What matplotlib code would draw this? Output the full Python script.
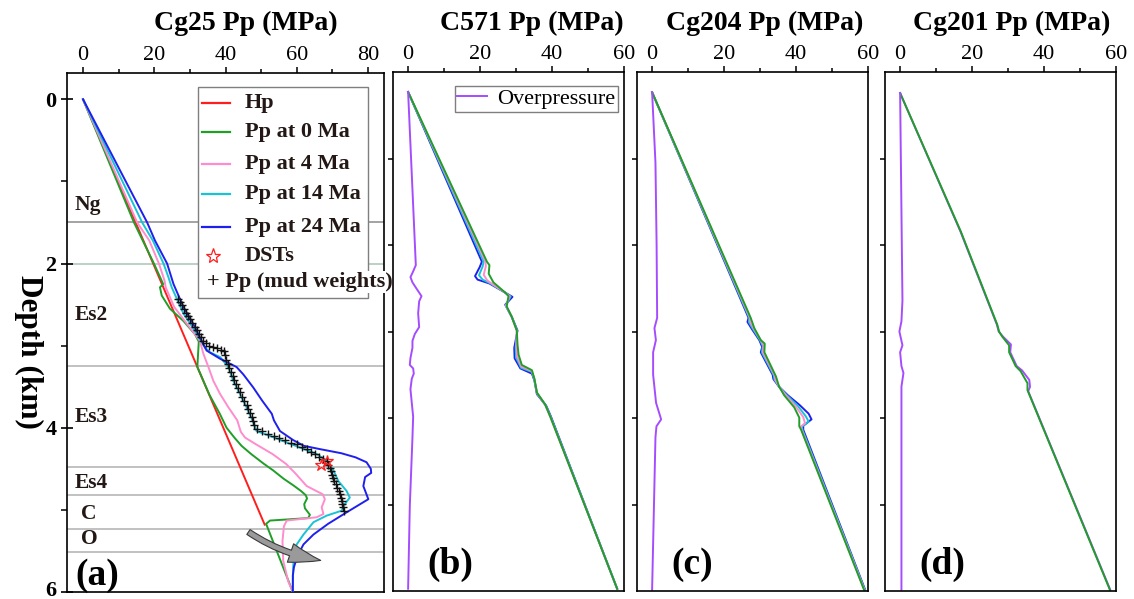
import matplotlib
matplotlib.use('Agg')
import matplotlib.pyplot as plt
import matplotlib.transforms as mtransforms
from matplotlib.patches import Rectangle, FancyArrowPatch
from matplotlib.lines import Line2D

plt.rcParams['font.family'] = ['Liberation Serif', 'DejaVu Serif']

# ---------------- data : panel (a) Cg25 ----------------
hp_depth = [0.0, 5.18]
hp_pp = [0.0, 51.0]

a0_depth = [0, 1.5, 2.0, 2.25, 2.29, 2.39, 2.55, 2.70, 2.86, 2.95, 3.10, 3.26, 3.43, 3.60, 3.83, 4.00,
            4.12, 4.22, 4.32, 4.44, 4.52, 4.62, 4.70, 4.77, 4.82, 4.86, 4.93, 4.98, 5.06, 5.10, 5.13, 5.17, 6.00]
a0_pp = [0, 14.3, 19.9, 22.5, 21.6, 22.1, 24.4, 28.2, 31.4, 32.5, 32.3, 32.1, 33.8, 35.5, 38.4, 40.3,
         42.5, 44.5, 47.2, 50.8, 53.4, 56.3, 59.0, 61.2, 62.5, 62.9, 62.1, 62.3, 63.7, 63.2, 52.5, 51.4, 58.9]

a4_depth = [0, 1.5, 1.72, 2.0, 2.21, 2.29, 2.53, 2.78, 2.94, 3.10, 3.26, 3.43, 3.59, 3.75, 3.91, 4.05,
            4.12, 4.20, 4.32, 4.44, 4.55, 4.71, 4.81, 4.87, 4.97, 5.05, 5.09, 5.13, 5.20, 5.38, 5.62, 5.87, 6.00]
a4_pp = [0, 15.2, 18.6, 21.3, 22.9, 23.2, 25.6, 30.0, 32.8, 33.8, 35.2, 36.6, 38.5, 40.8, 43.3, 44.3,
         45.5, 48.5, 53.2, 57.0, 59.5, 62.8, 67.3, 67.9, 67.0, 67.5, 65.6, 57.2, 56.4, 56.0, 56.2, 57.6, 58.9]

a14_depth = [0, 1.5, 1.72, 2.0, 2.17, 2.29, 2.61, 2.82, 3.02, 3.08, 3.14, 3.26, 3.43, 3.59, 3.75, 3.91,
             4.04, 4.10, 4.18, 4.24, 4.32, 4.40, 4.52, 4.65, 4.77, 4.85, 4.93, 5.01, 5.07, 5.15, 5.30,
             5.42, 5.50, 5.70, 6.00]
a14_pp = [0, 16.6, 19.6, 22.6, 24.0, 24.9, 28.2, 31.4, 34.2, 35.6, 38.5, 40.8, 42.2, 44.1, 45.9, 47.6,
          48.7, 52.5, 57.2, 60.9, 65.6, 68.4, 70.3, 71.7, 74.0, 74.9, 73.5, 72.6, 68.4, 64.7, 61.9,
          60.0, 59.3, 59.0, 58.9]

a24_depth = [0, 1.5, 1.72, 2.0, 2.25, 2.53, 2.74, 3.02, 3.06, 3.16, 3.26, 3.35, 3.51, 3.67, 3.83, 3.91,
             4.04, 4.15, 4.22, 4.26, 4.31, 4.36, 4.42, 4.50, 4.55, 4.60, 4.71, 4.87, 5.03, 5.17, 5.30,
             5.42, 5.56, 5.70, 5.80, 6.00]
a24_pp = [0, 18.0, 20.2, 23.6, 25.4, 28.2, 31.0, 34.2, 34.7, 38.5, 43.1, 45.0, 47.8, 50.3, 53.0, 53.6,
          55.3, 59.0, 62.0, 66.5, 72.5, 76.5, 79.6, 80.8, 80.9, 79.2, 78.7, 80.1, 74.0, 68.8, 64.7,
          61.9, 60.2, 59.2, 58.9, 58.9]

mud_depth = [2.43, 2.47, 2.51, 2.55, 2.60, 2.64, 2.68, 2.72, 2.77, 2.81, 2.86, 2.90, 2.94, 2.97, 3.00,
             3.02, 3.03, 3.05, 3.07, 3.12, 3.17, 3.22, 3.27, 3.32, 3.37, 3.42, 3.47, 3.52, 3.57, 3.62,
             3.67, 3.72, 3.77, 3.82, 3.87, 3.92, 3.97, 4.01, 4.04, 4.07, 4.10, 4.12, 4.15, 4.18, 4.20,
             4.23, 4.26, 4.29, 4.32, 4.35, 4.38, 4.41, 4.45, 4.49, 4.53, 4.57, 4.61, 4.65, 4.69, 4.73,
             4.77, 4.81, 4.85, 4.89, 4.93, 4.97, 5.01]
mud_pp = [26.8, 27.3, 27.9, 28.4, 29.0, 29.6, 30.1, 30.7, 31.4, 31.9, 32.5, 33.1, 33.8, 34.5, 35.3,
          36.4, 37.6, 38.7, 39.7, 39.9, 40.2, 40.6, 41.0, 41.5, 42.0, 42.5, 43.0, 43.5, 44.0, 44.6,
          45.3, 46.0, 46.4, 46.8, 47.3, 47.6, 48.0, 48.8, 50.2, 51.8, 53.5, 55.0, 56.6, 58.3, 60.0,
          61.5, 62.8, 64.0, 65.1, 66.3, 67.5, 68.4, 68.8, 69.2, 69.5, 69.8, 70.1, 70.4, 70.9, 71.4,
          71.8, 72.2, 72.5, 72.7, 72.8, 73.0, 73.2]

dst_depth = [4.45, 4.41]
dst_pp = [66.8, 68.6]

formation_depths = [1.5, 2.01, 3.25, 4.48, 4.82, 5.23, 5.51]
formation_names = ['Ng', 'Es2', 'Es3', 'Es4', 'C', 'O']
formation_label_depths = [1.29, 2.63, 3.87, 4.67, 5.05, 5.35]

# ---------------- data : panel (b) C571 ----------------
b0_depth = [0.231, 2.193, 2.233, 2.332, 2.432, 2.551, 2.591, 2.710, 2.830, 2.989, 3.148, 3.268, 3.387,
            3.447, 3.546, 3.705, 3.845, 3.984, 5.974]
b0_pp = [0.0, 21.9, 22.6, 22.4, 23.7, 27.0, 27.9, 27.4, 28.8, 30.2, 30.4, 30.7, 31.6,
         34.4, 35.1, 35.8, 38.1, 39.5, 58.1]
b4_depth = [0.231, 2.193, 2.245, 2.345, 2.410, 2.445, 2.551, 2.591, 2.705, 2.830, 2.989, 3.170, 3.290,
            3.407, 3.457, 3.550, 3.710, 3.850, 3.984, 5.974]
b4_pp = [0.0, 21.5, 21.6, 21.0, 22.0, 23.2, 27.0, 28.2, 27.2, 28.8, 30.2, 30.1, 30.3,
         31.5, 34.4, 35.1, 35.8, 38.1, 39.5, 58.1]
b14_depth = [0.231, 2.193, 2.250, 2.350, 2.400, 2.445, 2.551, 2.595, 2.700, 2.830, 2.989, 3.185, 3.300,
             3.420, 3.467, 3.560, 3.715, 3.850, 3.984, 5.974]
b14_pp = [0.0, 21.0, 20.7, 19.7, 20.7, 22.9, 27.0, 28.5, 27.1, 28.8, 30.3, 29.9, 30.0,
          31.4, 34.4, 35.1, 35.8, 38.2, 39.6, 58.1]
b24_depth = [0.231, 2.193, 2.255, 2.360, 2.400, 2.445, 2.551, 2.600, 2.690, 2.830, 2.989, 3.190, 3.310,
             3.427, 3.487, 3.566, 3.725, 3.860, 3.984, 5.974]
b24_pp = [0.0, 20.5, 19.9, 18.6, 19.3, 22.6, 27.0, 29.0, 27.0, 28.8, 30.4, 29.5, 29.6,
          31.2, 34.4, 35.1, 35.8, 38.4, 39.7, 58.1]
bop_depth = [0.231, 2.233, 2.305, 2.372, 2.432, 2.492, 2.591, 2.651, 2.790, 2.949, 3.029, 3.108, 3.188,
             3.307, 3.387, 3.427, 3.487, 3.546, 3.666, 3.825, 3.984, 4.223, 5.019, 5.974]
bop_pp = [0.0, 2.14, 1.40, 0.65, 1.21, 2.14, 3.72, 3.07, 2.79, 3.07, 1.86, 1.21, 1.21,
          0.65, 0.47, 1.40, 1.58, 1.02, 0.65, 1.02, 1.40, 1.21, 0.47, 0.0]

# ---------------- data : panel (c) Cg204 ----------------
c0_depth = [0.235, 2.842, 2.961, 3.100, 3.140, 3.240, 3.518, 3.638, 3.737, 3.877, 3.996, 4.096, 4.135, 5.986]
c0_pp = [0.0, 27.4, 28.4, 30.2, 31.3, 31.2, 34.4, 35.3, 36.7, 39.5, 40.9, 40.9, 41.4, 58.9]
c4_depth = [0.235, 2.842, 2.890, 2.970, 3.100, 3.160, 3.240, 3.510, 3.560, 3.640, 3.740, 3.870, 3.990, 4.060, 4.100, 4.140, 5.986]
c4_pp = [0.0, 27.2, 27.3, 28.3, 30.2, 31.0, 30.8, 34.1, 34.3, 35.3, 37.2, 40.0, 42.0, 42.5, 41.3, 41.6, 59.0]
c14_depth = [0.235, 2.842, 2.890, 2.970, 3.100, 3.170, 3.240, 3.505, 3.555, 3.640, 3.740, 3.860, 3.980, 4.040, 4.100, 4.140, 5.986]
c14_pp = [0.0, 27.0, 26.9, 28.0, 30.0, 30.8, 30.5, 33.8, 34.0, 35.3, 37.5, 40.5, 42.7, 43.5, 41.6, 41.8, 59.1]
c24_depth = [0.235, 2.842, 2.890, 2.970, 3.100, 3.180, 3.240, 3.500, 3.550, 3.640, 3.740, 3.850, 3.950, 4.016, 4.090, 4.135, 5.986]
c24_pp = [0.0, 26.8, 26.5, 27.7, 29.8, 30.6, 30.2, 33.5, 33.7, 35.3, 37.8, 41.0, 43.5, 44.3, 42.0, 42.0, 59.2]
cop_depth = [0.235, 1.05, 2.00, 2.842, 2.961, 3.100, 3.240, 3.500, 3.825, 4.016, 4.096, 4.223, 5.986]
cop_pp = [0.0, 0.93, 1.25, 1.40, 0.65, 1.05, 0.28, 0.28, 1.10, 2.51, 1.21, 0.93, 0.0]

# ---------------- data : panel (d) Cg201 ----------------
d0_depth = [0.243, 1.847, 2.921, 3.000, 3.060, 3.160, 3.240, 3.400, 3.459, 3.598, 3.678, 5.986]
d0_pp = [0.0, 16.9, 27.0, 27.5, 28.4, 30.3, 30.3, 32.1, 33.5, 35.4, 35.4, 58.3]
d24_depth = [0.243, 1.847, 2.921, 3.000, 3.060, 3.150, 3.240, 3.400, 3.450, 3.560, 3.640, 3.690, 5.986]
d24_pp = [0.0, 16.8, 26.9, 27.4, 28.6, 30.8, 30.6, 32.4, 33.9, 35.9, 36.1, 35.6, 58.4]
dop_depth = [0.243, 2.643, 2.882, 3.000, 3.160, 3.240, 3.400, 3.480, 3.638, 5.986]
dop_pp = [0.0, 0.65, 0.37, -0.2, 0.65, 0.0, 0.37, 0.93, 0.37, 0.37]

# ---------------- style ----------------
RED = '#ff1e1e'
GREEN = '#1f9e28'
PINK = '#ff8ccc'
CYAN = '#19c3d6'
BLUE = '#1f1fee'
PURPLE = '#a64cff'
TXT = '#231815'
LW = 1.4

W, H = 1134, 599
fig = plt.figure(figsize=(W / 100, H / 100), dpi=100)


def rect(l, t, r, b):
    return [l / W, 1 - b / H, (r - l) / W, (b - t) / H]


axa = fig.add_axes(rect(67, 73, 384, 592))
axb = fig.add_axes(rect(393, 72, 624, 591))
axc = fig.add_axes(rect(637, 72, 868, 591))
axd = fig.add_axes(rect(885, 72, 1116, 591))

for ax in (axa, axb, axc, axd):
    for sp in ax.spines.values():
        sp.set_linewidth(1.2)
    ax.xaxis.tick_top()
    ax.tick_params(axis='x', which='both', direction='out', width=1.1, labelsize=16, pad=2)
    ax.tick_params(axis='x', which='major', length=4)
    ax.tick_params(axis='x', which='minor', length=3)

# ---- panel (a)
axa.set_xlim(-4.5, 84.5)
axa.set_ylim(6.0, -0.32)
axa.set_xticks([0, 20, 40, 60, 80])
axa.set_xticks([10, 30, 50, 70], minor=True)
axa.set_yticks([0, 2, 4, 6])
axa.set_yticks([1, 3, 5], minor=True)
axa.tick_params(axis='y', which='major', direction='inout', length=9, width=1.2, labelsize=16, pad=3)
axa.tick_params(axis='y', which='minor', direction='out', length=4, width=1.1)
ylabels = axa.get_yticklabels()
for lbl in ylabels:
    lbl.set_fontweight('bold')
ylabels[-1].set_transform(ylabels[-1].get_transform() +
                          mtransforms.ScaledTranslation(0, 4 / 100, fig.dpi_scale_trans))

for i, dpt in enumerate(formation_depths):
    col = '#8a8a8a' if i == 0 else ('#a9c4b6' if i == 1 else '#b0b0b0')
    axa.axhline(dpt, color=col, lw=1.1, zorder=1)

trA = axa.get_yaxis_transform()
for name, dpt in zip(formation_names, formation_label_depths):
    if name in ('C', 'O'):
        axa.text(0.069, dpt, name, transform=trA, ha='center', va='center', fontsize=15.5,
                 fontweight='bold', color=TXT)
    else:
        axa.text(0.025, dpt, name, transform=trA, ha='left', va='center', fontsize=15.5,
                 fontweight='bold', color=TXT)
axa.text(0.025, 5.80, '(a)', transform=trA, ha='left', va='center', fontsize=27,
         fontweight='bold', color='black')

axa.plot(hp_pp, hp_depth, color=RED, lw=LW, zorder=3)
axa.plot(a0_pp, a0_depth, color=GREEN, lw=LW, zorder=3)
axa.plot(a4_pp, a4_depth, color=PINK, lw=LW, zorder=3)
axa.plot(a14_pp, a14_depth, color=CYAN, lw=LW, zorder=3)
axa.plot(a24_pp, a24_depth, color=BLUE, lw=LW, zorder=3)
axa.plot(mud_pp, mud_depth, ls='none', marker='+', ms=5.5, mew=1.0, color='#111111', zorder=4)
axa.plot(dst_pp, dst_depth, ls='none', marker='*', ms=9, mfc='none', mec=RED, mew=0.9, zorder=5)

arrow = FancyArrowPatch(posA=(45.8, 5.25), posB=(67.5, 5.62), connectionstyle='arc3,rad=0.12',
                        arrowstyle='simple,head_length=1.6,head_width=1.0,tail_width=0.3',
                        mutation_scale=14, fc='#9a9a9a', ec='#3a3a3a', lw=0.8, zorder=6)
axa.add_patch(arrow)

# manual legend for panel (a)
fa = axa.transAxes
axa.add_patch(Rectangle((0.4132, 0.5665), 0.9495 - 0.4132, 0.973 - 0.5665, transform=fa,
                        fc='white', ec='#7f7f7f', lw=1.0, zorder=7))
leg_items = [('Hp', RED, 0.9422), ('Pp at 0 Ma', GREEN, 0.8863), ('Pp at 4 Ma', PINK, 0.8247),
             ('Pp at 14 Ma', CYAN, 0.7669), ('Pp at 24 Ma', BLUE, 0.7033)]
for lab, col, yy in leg_items:
    axa.add_line(Line2D([0.426, 0.514], [yy, yy], transform=fa, color=col, lw=1.6, zorder=8))
    axa.text(0.5615, yy, lab, transform=fa, ha='left', va='center', fontsize=16,
             fontweight='bold', color=TXT, zorder=8)
axa.add_line(Line2D([0.4606], [0.6474], transform=fa, ls='none', marker='*', ms=11, mfc='none',
                    mec=RED, mew=0.9, zorder=8))
axa.text(0.5615, 0.6474, 'DSTs', transform=fa, ha='left', va='center', fontsize=16,
         fontweight='bold', color=TXT, zorder=8)
axa.text(0.4416, 0.5973, '+ Pp (mud weights)', transform=fa, ha='left', va='center', fontsize=16,
         fontweight='bold', color=TXT, zorder=9, clip_on=False,
         bbox=dict(fc='white', ec='none', pad=1.0))

# ---- panels (b)-(d)
for ax in (axb, axc, axd):
    ax.set_xlim(-4.2, 60)
    ax.set_ylim(6.0, 0.0)
    ax.set_xticks([0, 20, 40, 60])
    ax.set_xticks([10, 30, 50], minor=True)
    ax.set_yticks([1, 2, 3, 4, 5])
    ax.set_yticklabels([])
    ax.tick_params(axis='y', which='major', direction='out', length=3.5, width=1.1)

axb.plot(b24_pp, b24_depth, color=BLUE, lw=LW)
axb.plot(b14_pp, b14_depth, color=CYAN, lw=LW)
axb.plot(b4_pp, b4_depth, color=PINK, lw=LW)
axb.plot(b0_pp, b0_depth, color=GREEN, lw=LW)
axb.plot(bop_pp, bop_depth, color=PURPLE, lw=LW, label='Overpressure')
axb.legend(loc='upper right', bbox_to_anchor=(0.974, 0.973), borderaxespad=0, frameon=True,
           fancybox=False, edgecolor='#7f7f7f', framealpha=1, prop={'size': 16},
           handlelength=1.35, handletextpad=0.45, borderpad=0.12)

axc.plot(c24_pp, c24_depth, color=BLUE, lw=LW)
axc.plot(c14_pp, c14_depth, color=CYAN, lw=LW)
axc.plot(c4_pp, c4_depth, color=PINK, lw=LW)
axc.plot(c0_pp, c0_depth, color=GREEN, lw=LW)
axc.plot(cop_pp, cop_depth, color=PURPLE, lw=LW)

axd.plot(d24_pp, d24_depth, color=PURPLE, lw=LW)
axd.plot(d0_pp, d0_depth, color=GREEN, lw=LW)
axd.plot(dop_pp, dop_depth, color=PURPLE, lw=LW)

for ax, lab in ((axb, '(b)'), (axc, '(c)'), (axd, '(d)')):
    ax.text(0.15, 0.052, lab, transform=ax.transAxes, ha='left', va='center', fontsize=27,
            fontweight='bold', color='black')

# titles and y label
for xc, t in ((246, 'Cg25 Pp (MPa)'), (532, 'C571 Pp (MPa)'), (765, 'Cg204 Pp (MPa)'),
              (1012, 'Cg201 Pp (MPa)')):
    fig.text(xc / W, 1 - 23 / H, t, ha='center', va='center', fontsize=20, fontweight='bold')
fig.text(29 / W, 1 - 352 / H, 'Depth (km)', ha='center', va='center', rotation=270,
         fontsize=22.5, fontweight='bold')

fig.savefig('out.png', dpi=100)
